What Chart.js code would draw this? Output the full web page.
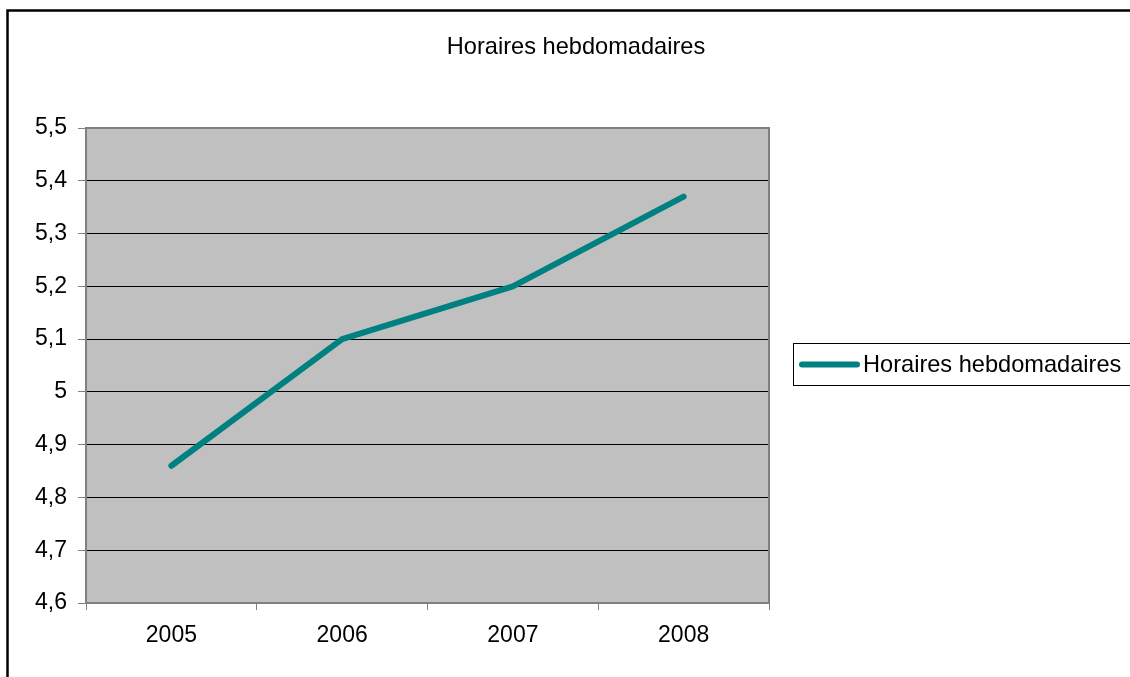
<!DOCTYPE html>
<html>
<head>
<meta charset="utf-8">
<script src="https://cdn.jsdelivr.net/npm/chart.js@4/dist/chart.umd.min.js"></script>
<style>
  html, body { margin: 0; padding: 0; background: #fff; overflow: hidden; }
  #wrap { position: absolute; left: 0; top: 0; width: 1152px; height: 677px; }
</style>
</head>
<body>
<div id="wrap"><canvas id="c" width="1152" height="677"></canvas></div>
<script>
const categories = ['2005', '2006', '2007', '2008'];
const seriesName = 'Horaires hebdomadaires';
const seriesValues = [4.86, 5.10, 5.20, 5.37];
const chartTitle = 'Horaires hebdomadaires';
const yMin = 4.6, yMax = 5.5, yStep = 0.1;

const FONT = '"Liberation Sans", Arial, sans-serif';
const GRAY = '#808080';

const framePlugin = {
  id: 'frame',
  beforeDraw(chart) {
    const { ctx, chartArea: a } = chart;
    ctx.save();
    ctx.fillStyle = '#C0C0C0';
    ctx.fillRect(a.left, a.top, a.right - a.left, a.bottom - a.top);
    ctx.restore();
  },
  afterDraw(chart) {
    const { ctx, chartArea: a } = chart;
    ctx.save();
    // plot border (top/right)
    ctx.strokeStyle = GRAY;
    ctx.lineWidth = 2;
    ctx.beginPath();
    ctx.moveTo(a.left, a.top);
    ctx.lineTo(a.right, a.top);
    ctx.lineTo(a.right, a.bottom);
    ctx.stroke();
    // outer chart border
    ctx.strokeStyle = '#000';
    ctx.lineWidth = 2.5;
    ctx.beginPath();
    ctx.moveTo(7.5, 700);
    ctx.lineTo(7.5, 10.5);
    ctx.lineTo(1200, 10.5);
    ctx.stroke();
    // title
    ctx.fillStyle = '#000';
    ctx.font = '23.6px ' + FONT;
    ctx.textAlign = 'center';
    ctx.textBaseline = 'alphabetic';
    ctx.fillText(chartTitle, 576, 54);
    // legend
    const ds = chart.data.datasets[0];
    const bx = 793.5, by = 343.5, bw = 400, bh = 42;
    ctx.fillStyle = '#fff';
    ctx.fillRect(bx, by, bw, bh);
    ctx.strokeStyle = '#000';
    ctx.lineWidth = 1;
    ctx.strokeRect(bx, by, bw, bh);
    const cy = by + bh / 2;
    ctx.strokeStyle = ds.borderColor;
    ctx.lineWidth = ds.borderWidth;
    ctx.lineCap = 'round';
    ctx.beginPath();
    ctx.moveTo(802, cy);
    ctx.lineTo(857, cy);
    ctx.stroke();
    ctx.fillStyle = '#000';
    ctx.font = '23.6px ' + FONT;
    ctx.textBaseline = 'middle';
    ctx.textAlign = 'left';
    ctx.fillText(ds.label, 863, cy + 1);
    ctx.restore();
  }
};

new Chart(document.getElementById('c'), {
  type: 'line',
  data: {
    labels: categories,
    datasets: [{
      label: seriesName,
      data: seriesValues,
      borderColor: '#008080',
      backgroundColor: '#008080',
      borderWidth: 6,
      borderCapStyle: 'round',
      borderJoinStyle: 'round',
      pointRadius: 0,
      tension: 0,
      fill: false
    }]
  },
  options: {
    responsive: false,
    animation: false,
    events: [],
    layout: { padding: { left: 0, right: 383, top: 128, bottom: 0 } },
    plugins: {
      legend: { display: false },
      tooltip: { enabled: false },
      title: { display: false }
    },
    scales: {
      x: {
        type: 'category',
        offset: true,
        border: { display: true, color: GRAY, width: 2 },
        grid: {
          offset: true,
          drawOnChartArea: false,
          drawTicks: true,
          tickLength: 7,
          tickColor: GRAY,
          tickWidth: 1
        },
        ticks: {
          color: '#000',
          font: { family: FONT, size: 23 },
          padding: 12,
          maxRotation: 0
        },
        afterFit(s) { s.height = 74; }
      },
      y: {
        min: yMin,
        max: yMax,
        border: { display: true, color: GRAY, width: 2 },
        grid: {
          color: (c) => (c.index === 0 || c.tick.value >= yMax - 1e-9) ? 'rgba(0,0,0,0)' : '#000',
          lineWidth: 1,
          drawTicks: true,
          tickLength: 8,
          tickColor: GRAY
        },
        ticks: {
          stepSize: yStep,
          color: '#000',
          font: { family: FONT, size: 23 },
          padding: 11,
          callback: (v) => String(Math.round(v * 10) / 10).replace('.', ',')
        },
        afterFit(s) { s.width = 86; }
      }
    }
  },
  plugins: [framePlugin]
});
</script>
</body>
</html>
